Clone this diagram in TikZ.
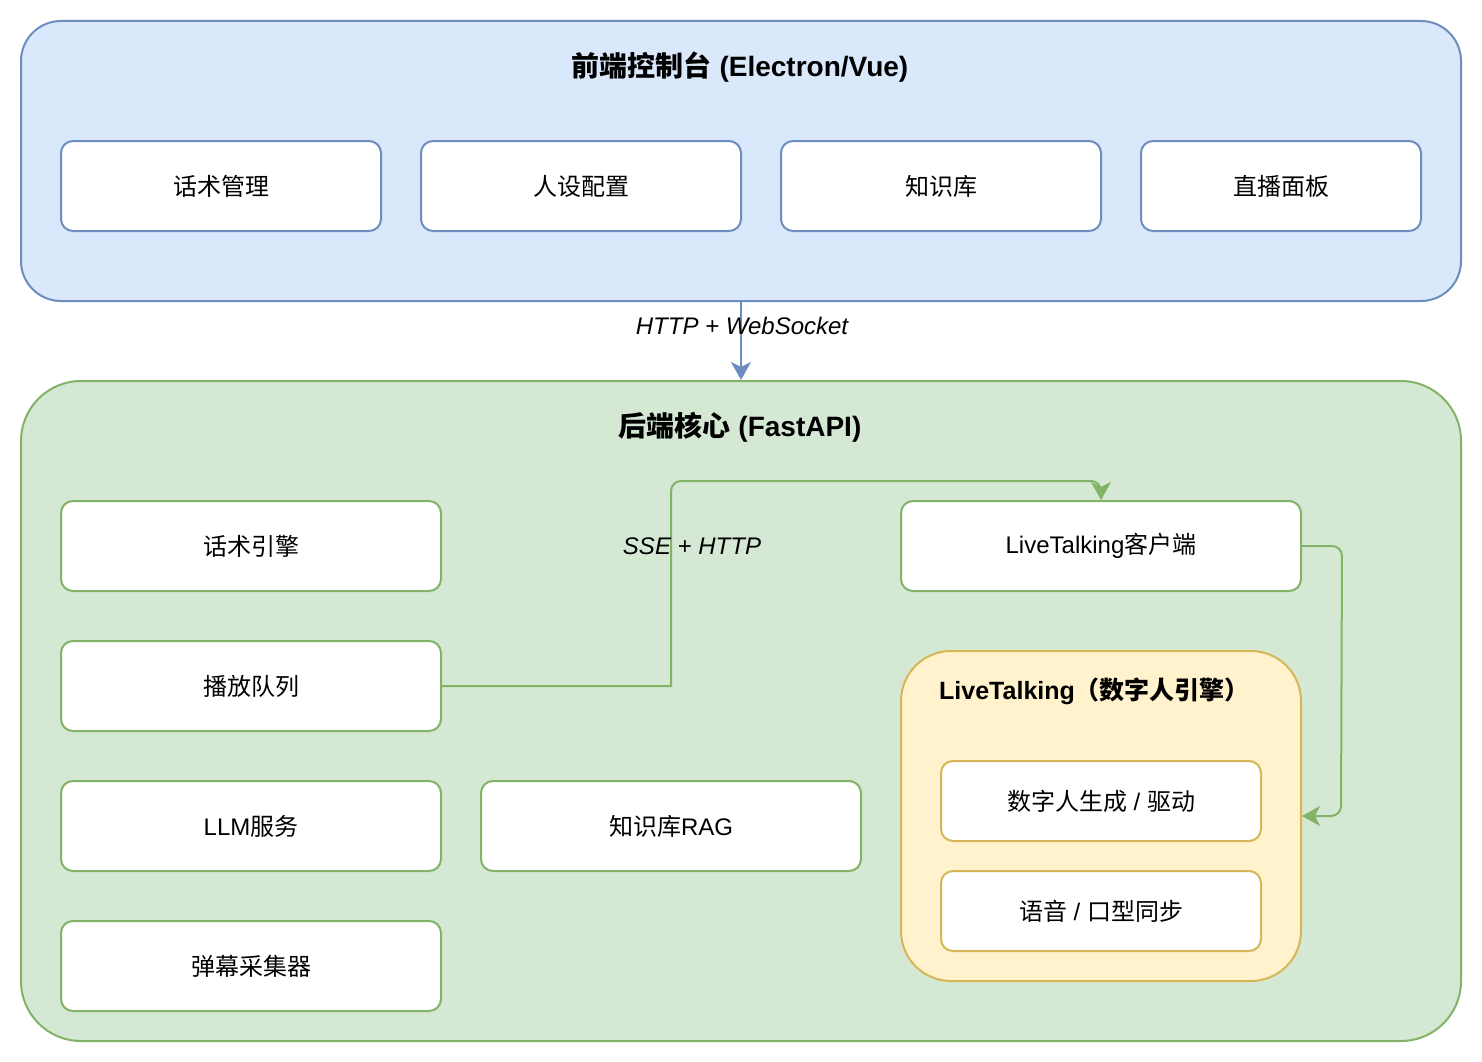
\documentclass[tikz,border=0pt]{standalone}
\usepackage{fontspec}
\setmainfont{Liberation Sans}
\newfontfamily\cjk{Noto Sans CJK SC}
\usetikzlibrary{arrows.meta}
\definecolor{bfill}{HTML}{DAE8FC}
\definecolor{bline}{HTML}{6C8EBF}
\definecolor{gfill}{HTML}{D5E8D4}
\definecolor{gline}{HTML}{82B366}
\definecolor{yfill}{HTML}{FFF2CC}
\definecolor{yline}{HTML}{D6B656}
\tikzset{
  lbl/.style={font=\fontsize{24}{28}\selectfont, inner sep=0pt},
  ttl/.style={font=\fontsize{28}{32}\selectfont\bfseries, inner sep=0pt},
  bbox/.style={draw=bline, fill=white, line width=2pt, rounded corners=12pt, minimum width=320pt, minimum height=90pt, lbl},
  gbox/.style={draw=gline, fill=white, line width=2pt, rounded corners=12pt, minimum width=380pt, minimum height=90pt, lbl},
  ybox/.style={draw=yline, fill=white, line width=2pt, rounded corners=12pt, minimum width=320pt, minimum height=80pt, lbl},
  tip/.style={-{Stealth[length=18pt,width=20pt,inset=5pt,sharp]}},
  flow/.style={line width=2pt, tip},
}
\begin{document}
\begin{tikzpicture}[x=1pt,y=-1pt]
\useasboundingbox (0,0) rectangle (1482,1062);
% frontend
\node[draw=bline, fill=bfill, line width=2pt, rounded corners=40pt, minimum width=1440pt, minimum height=280pt] (fe) at (741,161) {};
\node[ttl] (fet) at (740,67) {{\cjk 前端控制台} (Electron/Vue)};
\node[bbox] (f1) at (221,186) {\cjk 话术管理};
\node[bbox] (f2) at (581,186) {\cjk 人设配置};
\node[bbox] (f3) at (941,186) {\cjk 知识库};
\node[bbox, minimum width=280pt] (f4) at (1281,186) {\cjk 直播面板};
% backend
\node[draw=gline, fill=gfill, line width=2pt, rounded corners=60pt, minimum width=1440pt, minimum height=660pt] (be) at (741,711) {};
\node[ttl] (bet) at (740,427) {{\cjk 后端核心} (FastAPI)};
\node[gbox] (s1) at (251,546) {\cjk 话术引擎};
\node[gbox] (s2) at (251,686) {\cjk 播放队列};
\node[gbox] (s3) at (251,826) {LLM{\cjk 服务}};
\node[gbox] (s4) at (251,966) {\cjk 弹幕采集器};
\node[gbox] (rag) at (671,826) {{\cjk 知识库}RAG};
\node[gbox, minimum width=400pt] (lc) at (1101,546) {LiveTalking{\cjk 客户端}};
% livetalking engine
\node[draw=yline, fill=yfill, line width=2pt, rounded corners=50pt, minimum width=400pt, minimum height=330pt] (ly) at (1101,816) {};
\node[font=\fontsize{25}{29}\selectfont\bfseries, inner sep=0pt, anchor=west] (lyt) at (939,691) {LiveTalking{\cjk （数字人引擎）}};
\node[ybox] (y1) at (1101,801) {{\cjk 数字人生成} / {\cjk 驱动}};
\node[ybox] (y2) at (1101,911) {{\cjk 语音} / {\cjk 口型同步}};
% connectors
\draw[flow, draw=bline] (fe.south) -- (be.north);
\node[lbl, font=\fontsize{24}{28}\selectfont\itshape] (l1) at (742,326) {HTTP + WebSocket};
\coordinate (b1) at (671,481);
\draw[flow, draw=gline] (s2.east) -- (671,686) [rounded corners=10pt] -- (b1) -- (1101,481) [sharp corners] -- (lc.north);
\node[lbl, font=\fontsize{24}{28}\selectfont\itshape] (l2) at (692,546) {SSE + HTTP};
\draw[flow, draw=gline] (lc.east) [rounded corners=10pt] -- ++(40,0) -- (1341,816) [sharp corners] -- (ly.east);
\end{tikzpicture}
\end{document}
